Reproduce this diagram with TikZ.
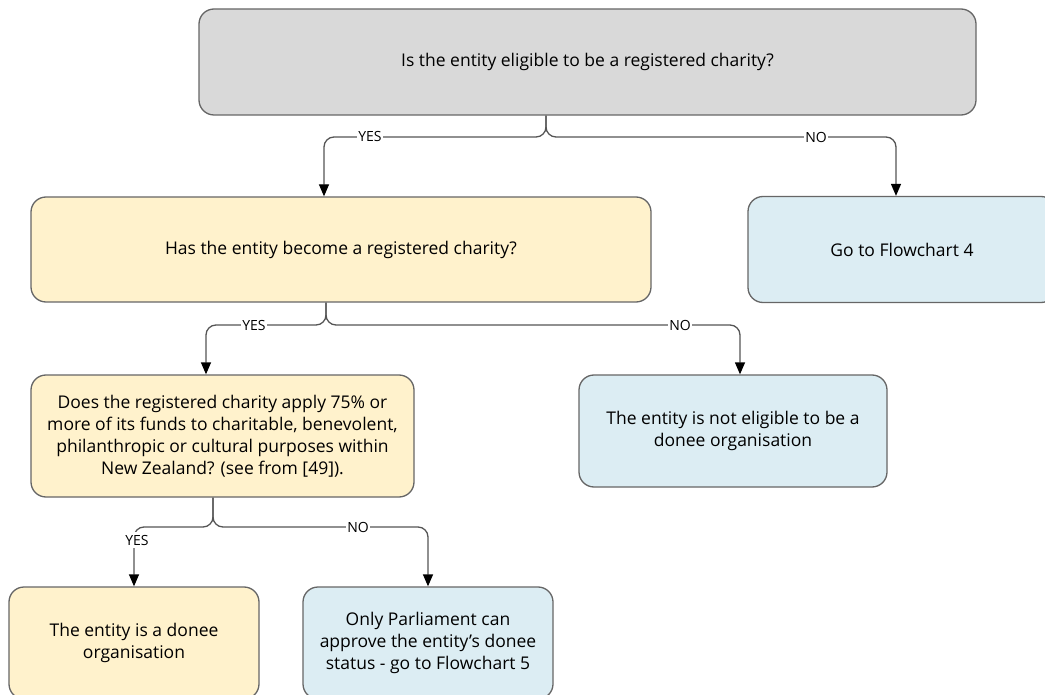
\documentclass[tikz,border=0pt]{standalone}
\usepackage{fontspec}
\setmainfont{Open Sans}
\usetikzlibrary{arrows.meta}
\definecolor{boxgray}{HTML}{D9D9D9}
\definecolor{boxyellow}{HTML}{FFF2CC}
\definecolor{boxblue}{HTML}{DCEDF3}
\definecolor{edgegray}{HTML}{666666}
\definecolor{wiregray}{HTML}{555555}
\tikzset{
  box/.style={draw=edgegray, line width=1.3pt, rounded corners=15pt, align=center,
    inner sep=4pt, font=\fontsize{17.5}{22}\selectfont, text=black},
  graybox/.style={box, fill=boxgray},
  yellowbox/.style={box, fill=boxyellow},
  bluebox/.style={box, fill=boxblue},
  wire/.style={draw=wiregray, line width=1.3pt, rounded corners=10pt,
    -{Triangle[length=12pt,width=10pt,color=black]}},
  lbl/.style={fill=white, inner sep=1pt, font=\fontsize{14}{15}\selectfont, text=black}
}
\begin{document}
\begin{tikzpicture}[x=1pt,y=-1pt]
\useasboundingbox (0,0) rectangle (1045,695);
\clip (0,0) rectangle (1045,695);

% decision and outcome boxes
\node[graybox, minimum width=777pt, minimum height=106pt] (q1) at (587.5,62)
  {Is the entity eligible to be a registered charity?};
\node[yellowbox, minimum width=620pt, minimum height=105pt] (q2) at (341,249.5)
  {Has the entity become a registered charity?};
\node[bluebox, minimum width=308pt, minimum height=106pt] (fc4) at (902,249.5)
  {Go to Flowchart 4};
\node[yellowbox, minimum width=383pt, minimum height=122pt] (q3) at (222.5,436)
  {Does the registered charity apply 75\% or\\more of its funds to charitable, benevolent,\\philanthropic or cultural purposes within\\New Zealand? (see from [49]).};
\node[bluebox, minimum width=308pt, minimum height=112pt] (noteli) at (733,431)
  {The entity is not eligible to be a\\donee organisation};
\node[yellowbox, minimum width=250pt, minimum height=112pt] (donee) at (134,643)
  {The entity is a donee\\organisation};
\node[bluebox, minimum width=250pt, minimum height=112pt] (parl) at (428,643)
  {Only Parliament can\\approve the entity’s donee\\status - go to Flowchart 5};

% branches out of the first question
\draw[wire] (q1.south -| 546,0) -- (546,137) -- (324,137) -- (q2.north -| 324,0);
\draw[wire] (q1.south -| 546,0) -- (546,137) -- (896,137) -- (fc4.north -| 896,0);
\node[lbl] (y1) at (370,137) {YES};
\node[lbl] (n1) at (816,137) {NO};

% branches out of the second question
\draw[wire] (q2.south -| 326,0) -- (326,325) -- (206,325) -- (q3.north -| 206,0);
\draw[wire] (q2.south -| 326,0) -- (326,325) -- (740,325) -- (noteli.north -| 740,0);
\node[lbl] (y2) at (254,325) {YES};
\node[lbl] (n2) at (680,325) {NO};

% branches out of the third question
\draw[wire] (q3.south -| 213,0) -- (213,527) -- (134,527) -- (donee.north -| 134,0);
\draw[wire] (q3.south -| 213,0) -- (213,527) -- (428,527) -- (parl.north -| 428,0);
\node[lbl, inner sep=3pt] (y3) at (137,540) {YES};
\node[lbl] (n3) at (358,527) {NO};
\end{tikzpicture}
\end{document}
